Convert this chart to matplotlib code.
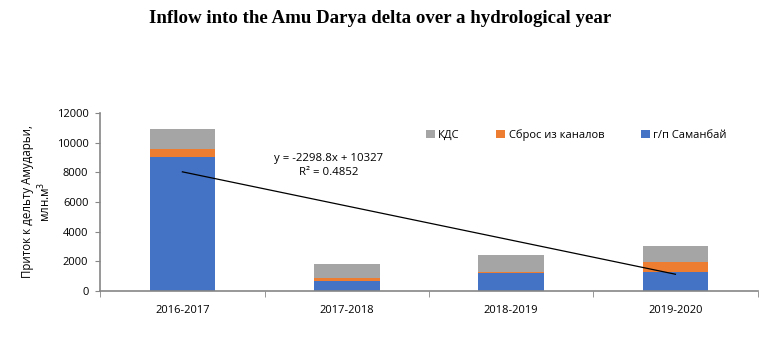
import numpy as np
import matplotlib
matplotlib.use("Agg")
import matplotlib.pyplot as plt

years = ["2016-2017", "2017-2018", "2018-2019", "2019-2020"]
samanbay = [9030, 680, 1220, 1300]   # г/п Саманбай
sbros = [560, 170, 50, 680]          # Сброс из каналов
kds = [1330, 990, 1160, 1080]        # КДС
trend_slope = -2298.8
trend_icpt = 10327

plt.rcParams['font.family'] = ['Open Sans', 'DejaVu Sans']
plt.rcParams['font.size'] = 8

fig = plt.figure(figsize=(7.77, 3.42), dpi=100)
ax = fig.add_axes([0.129, 0.149, 0.846, 0.521])

x = np.arange(len(years))
w = 0.4
b1 = ax.bar(x, samanbay, w, color="#4472C4", label="г/п Саманбай")
bottom2 = np.array(samanbay)
b2 = ax.bar(x, sbros, w, bottom=bottom2, color="#ED7D31", label="Сброс из каналов")
bottom3 = bottom2 + np.array(sbros)
b3 = ax.bar(x, kds, w, bottom=bottom3, color="#A5A5A5", label="КДС")

# linear trend on totals (Excel style, x = 1..n)
xt = np.array([1, len(years)])
ax.plot(xt - 1, trend_slope * xt + trend_icpt, color="black", lw=0.9)
ax.text(0.89, 8450, "y = -2298.8x + 10327\nR² = 0.4852", ha="center", va="center",
        fontsize=8.2, linespacing=1.3)

ax.set_xlim(-0.5, len(years) - 0.5)
ax.set_ylim(0, 12000)
ax.set_yticks(range(0, 12001, 2000))
ax.set_xticks(x)
ax.set_xticklabels(years)
ax.set_xticks(np.arange(-0.5, len(years), 1), minor=True)
ax.tick_params(axis="x", which="major", length=0, pad=10)
ax.tick_params(axis="x", which="minor", length=4, color="#868686")
ax.tick_params(axis="y", length=3.5, color="#868686", pad=5)
for s in ["top", "right"]:
    ax.spines[s].set_visible(False)
for s in ["left", "bottom"]:
    ax.spines[s].set_color("#868686")
    ax.spines[s].set_linewidth(1.2)

ax.set_ylabel("Приток к дельту Амударьи,\nмлн.м$^3$", fontsize=8.3, labelpad=2.5)

ax.legend(handles=[b3, b2, b1], loc="upper right", bbox_to_anchor=(0.968, 0.965), ncol=3,
          frameon=False, handlelength=0.8, handleheight=0.8, handletextpad=0.3,
          columnspacing=3.3, fontsize=8)

fig.suptitle("Inflow into the Amu Darya delta over a hydrological year", x=0.489, y=0.97,
             fontsize=13.6, fontweight="bold", family="Liberation Serif")

fig.savefig("out.png", dpi=100)
